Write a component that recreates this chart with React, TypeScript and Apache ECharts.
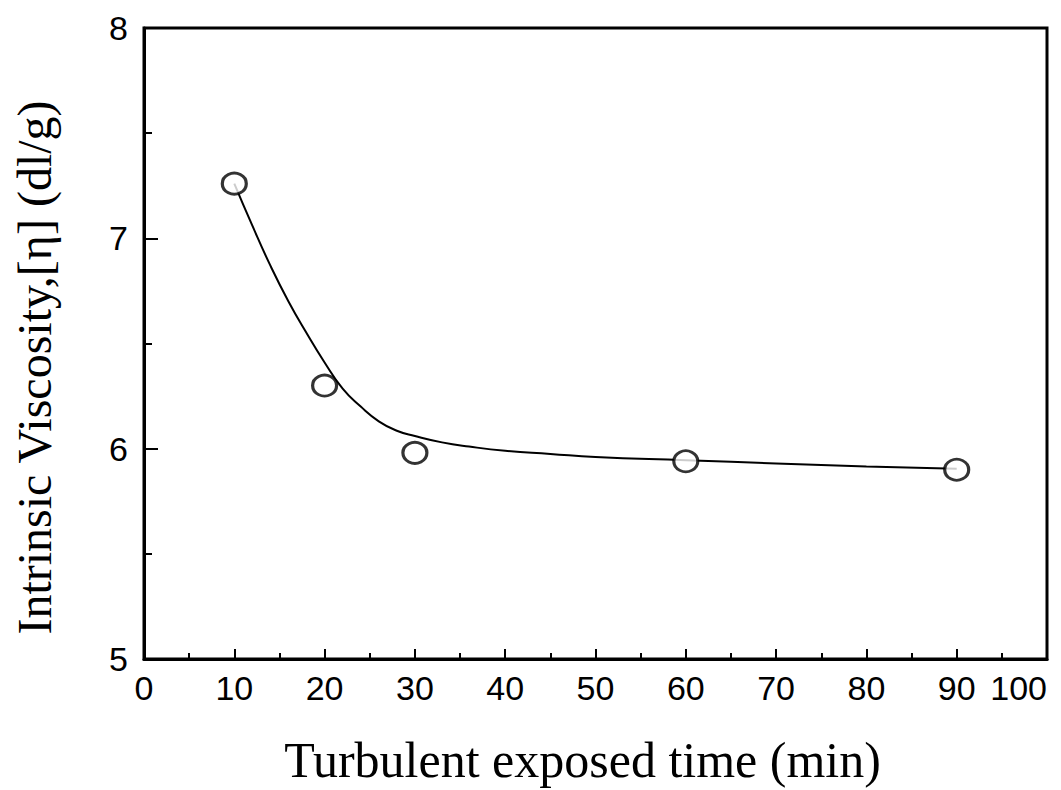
import React, { useEffect, useRef } from "react";
import * as echarts from "echarts";

const pointX = [10, 20, 30, 60, 90];
const pointY = [7.26, 6.3, 5.98, 5.94, 5.9];

const curveX = [10, 12, 14, 16, 18, 20, 22, 24, 26, 28, 30, 33, 36, 40, 45, 50, 60, 70, 80, 90];
const curveY = [7.26, 7.06, 6.87, 6.7, 6.55, 6.41, 6.285, 6.2, 6.13, 6.085, 6.06, 6.03, 6.01, 5.99, 5.975, 5.96, 5.945, 5.93, 5.915, 5.905];

const xTitle = "Turbulent exposed time (min)";
const yTitle = "Intrinsic Viscosity,[η] (dl/g)";

export default function App() {
  const ref = useRef<HTMLDivElement>(null);
  useEffect(() => {
    if (!ref.current) return;
    const chart = echarts.init(ref.current, null, { renderer: "svg" });
    const tickFont = { fontFamily: "Liberation Sans, Arial, sans-serif", fontSize: 34, color: "#000" };
    const titleFont = { fontFamily: "Liberation Serif, Times New Roman, serif", color: "#000" };
    chart.setOption({
      animation: false,
      backgroundColor: "#fff",
      grid: {
        left: 144,
        right: 14,
        top: 28,
        bottom: 131,
        show: true,
        borderColor: "#000",
        borderWidth: 3,
        backgroundColor: "transparent",
        outerBoundsMode: "none",
        containLabel: false,
      },
      xAxis: {
        type: "value",
        min: 0,
        max: 100,
        interval: 10,
        name: xTitle,
        nameLocation: "middle",
        nameGap: 76,
        nameTextStyle: { ...titleFont, fontSize: 50, padding: [0, 26, 0, 0] },
        axisLine: { show: true, lineStyle: { color: "#000", width: 3 } },
        axisTick: { show: true, inside: true, length: 10, lineStyle: { color: "#000", width: 2 } },
        minorTick: { show: true, splitNumber: 2, length: 6, lineStyle: { color: "#000", width: 2 } },
        splitLine: { show: false },
        axisLabel: { ...tickFont, margin: 12, alignMaxLabel: "right" },
      },
      yAxis: {
        type: "value",
        min: 5,
        max: 8,
        interval: 1,
        name: yTitle,
        nameLocation: "middle",
        nameGap: 86,
        nameRotate: 90,
        nameTextStyle: { ...titleFont, fontSize: 48, padding: [0, 48, 0, 0] },
        axisLine: { show: true, lineStyle: { color: "#000", width: 3 } },
        axisTick: { show: true, inside: true, length: 14, lineStyle: { color: "#000", width: 2 } },
        minorTick: { show: true, splitNumber: 2, length: 8, lineStyle: { color: "#000", width: 2 } },
        splitLine: { show: false },
        axisLabel: { ...tickFont, margin: 16 },
      },
      series: [
        {
          type: "line",
          data: curveX.map((x, i) => [x, curveY[i]]),
          smooth: true,
          showSymbol: false,
          lineStyle: { color: "#000", width: 2 },
          z: 2,
        },
        {
          type: "scatter",
          data: pointX.map((x, i) => [x, pointY[i]]),
          symbol: "circle",
          symbolSize: [24, 21],
          itemStyle: { color: "#fff", borderColor: "#000", borderWidth: 3 },
          z: 3,
        },
      ],
    });
    return () => chart.dispose();
  }, []);
  return <div ref={ref} style={{ width: 1061, height: 790, position: "absolute", left: 0, top: 0 }} />;
}
